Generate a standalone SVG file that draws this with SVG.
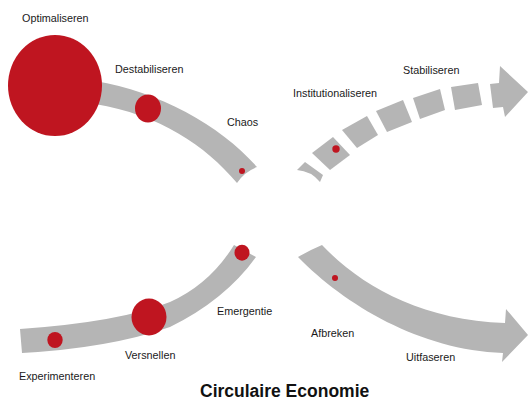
<svg xmlns="http://www.w3.org/2000/svg" width="528" height="400" viewBox="0 0 528 400">
  <style>
    .band { fill: #b5b5b5; }
    .dot { fill: #bf1520; }
    .lbl { font-family: "Liberation Sans", Arial, sans-serif; font-size: 10.8px; fill: #1a1a1a; }
    .title { font-family: "Liberation Sans", Arial, sans-serif; font-size: 17.5px; font-weight: bold; fill: #111; }
  </style>
  <rect width="528" height="400" fill="#ffffff"/>
  <g id="connectors">
    <path id="band-top-left" class="band" d="M 95,81 C 160,92 220,125 257,167 Q 244,172 237,183 C 205,145 160,115 95,104 Z"/>
    <path id="band-bottom-left" class="band" d="M 20,329 Q 120,322 170,302 Q 210,284 234,245 L 256,257 Q 225,300 170,327 Q 110,348 22,353 Z"/>
    <path id="band-bottom-right" class="band" d="M 298,257 Q 310,250 322,245 C 360,285 420,320 505,323 L 506,309 L 528,335 L 502,362 L 503,353 C 420,350 345,305 298,257 Z"/>
    <g id="band-top-right">
      <path class="band" d="M 305,162 L 323,175 L 320,182 Q 311,171 297,170 Z"/>
      <polygon class="band" points="312,153 333,137 350,155 330,170"/>
      <polygon class="band" points="342,130 367,116 378,135 357,148"/>
      <polygon class="band" points="376,111 403,100 412,122 387,132"/>
      <polygon class="band" points="413,98 440,89 445,110 420,119"/>
      <polygon class="band" points="451,87 478,83 482,105 455,110"/>
      <polygon class="band" points="490,84 499,83 500,66 528,92 505,117 503,107 493,108"/>
    </g>
  </g>
  <g id="optimaliseren">
    <ellipse class="dot" cx="55" cy="85.5" rx="47" ry="50.5"/>
    <text class="lbl" x="22" y="22">Optimaliseren</text>
  </g>
  <g id="destabiliseren">
    <ellipse class="dot" cx="148" cy="108.5" rx="13" ry="14"/>
    <text class="lbl" x="115" y="73">Destabiliseren</text>
  </g>
  <g id="chaos">
    <circle class="dot" cx="242" cy="171" r="3"/>
    <text class="lbl" x="227" y="126">Chaos</text>
  </g>
  <g id="institutionaliseren">
    <circle class="dot" cx="336" cy="149" r="3.7"/>
    <text class="lbl" x="293" y="97">Institutionaliseren</text>
  </g>
  <g id="stabiliseren">
    <text class="lbl" x="403" y="74">Stabiliseren</text>
  </g>
  <g id="emergentie">
    <ellipse class="dot" cx="242" cy="252.7" rx="7.5" ry="8"/>
    <text class="lbl" x="217" y="315">Emergentie</text>
  </g>
  <g id="versnellen">
    <ellipse class="dot" cx="149" cy="317" rx="17.5" ry="18.5"/>
    <text class="lbl" x="125" y="359">Versnellen</text>
  </g>
  <g id="experimenteren">
    <ellipse class="dot" cx="55" cy="340" rx="7.7" ry="8"/>
    <text class="lbl" x="19" y="380">Experimenteren</text>
  </g>
  <g id="afbreken">
    <circle class="dot" cx="335" cy="278" r="3"/>
    <text class="lbl" x="311" y="337">Afbreken</text>
  </g>
  <g id="uitfaseren">
    <text class="lbl" x="406" y="361">Uitfaseren</text>
  </g>
  <g id="title">
    <text class="title" x="200" y="397">Circulaire Economie</text>
  </g>
</svg>
